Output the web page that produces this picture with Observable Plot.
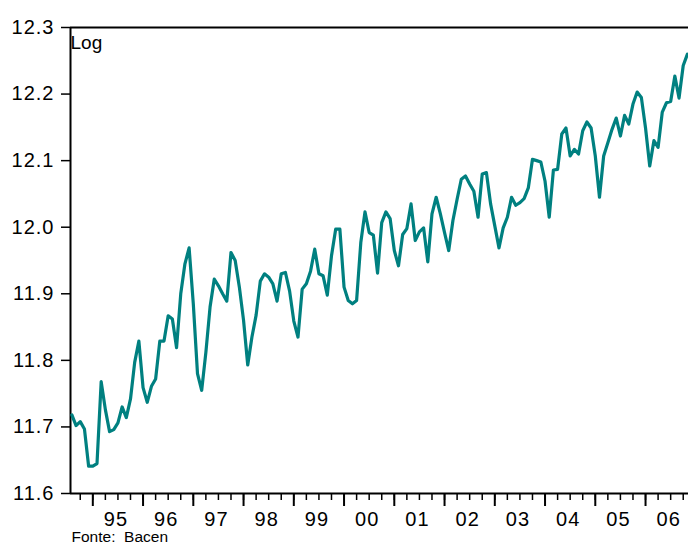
<!DOCTYPE html>
<html>
<head>
<meta charset="utf-8">
<script src="https://cdn.jsdelivr.net/npm/d3@7"></script>
<script src="https://cdn.jsdelivr.net/npm/@observablehq/plot@0.6"></script>
<style>
  html, body { margin: 0; padding: 0; background: #fff; }
  #chart { width: 688px; height: 543px; overflow: hidden; }
  g[aria-label$="tick label"] text { letter-spacing: 1px; }
</style>
</head>
<body>
<div id="chart"></div>
<script>
// Monthly series (log), starting August 1994
const startYear = 1994;
const startMonth = 8;
const values = [
  11.718, 11.702, 11.708, 11.697, 11.641, 11.641, 11.645, 11.768, 11.726, 11.693,
  11.696, 11.706, 11.730, 11.714, 11.742, 11.797, 11.829, 11.759, 11.737, 11.761,
  11.772, 11.829, 11.829, 11.867, 11.862, 11.819, 11.900, 11.945, 11.969, 11.885,
  11.780, 11.755, 11.812, 11.880, 11.922, 11.912, 11.900, 11.889, 11.962, 11.950,
  11.910, 11.860, 11.793, 11.835, 11.868, 11.919, 11.930, 11.925, 11.915, 11.889,
  11.930, 11.932, 11.904, 11.859, 11.835, 11.907, 11.915, 11.934, 11.967, 11.930,
  11.927, 11.898, 11.957, 11.997, 11.997, 11.910, 11.890, 11.885, 11.890, 11.977,
  12.023, 11.992, 11.988, 11.931, 12.007, 12.023, 12.013, 11.965, 11.942, 11.989,
  11.998, 12.035, 11.980, 11.993, 11.999, 11.948, 12.020, 12.045, 12.020, 11.992,
  11.965, 12.010, 12.042, 12.072, 12.077, 12.065, 12.054, 12.015, 12.080, 12.082,
  12.035, 12.002, 11.969, 11.999, 12.015, 12.045, 12.033, 12.037, 12.043, 12.059,
  12.102, 12.100, 12.098, 12.069, 12.015, 12.086, 12.087, 12.140, 12.149, 12.107,
  12.117, 12.110, 12.145, 12.158, 12.149, 12.107, 12.045, 12.107, 12.127, 12.147,
  12.164, 12.137, 12.168, 12.155, 12.185, 12.203, 12.195, 12.149, 12.092, 12.130,
  12.120, 12.173, 12.187, 12.189, 12.227, 12.194, 12.243, 12.260
];
const yearLabels = ["95","96","97","98","99","00","01","02","03","04","05","06"];
const labelYears = d3.range(1995, 2007);
const yTicks = [11.6, 11.7, 11.8, 11.9, 12.0, 12.1, 12.2, 12.3];
const unitLabel = "Log";
const sourceNote = "Fonte:  Bacen";

const data = values.map((v, i) => ({
  t: startYear + (startMonth - 1 + i) / 12,
  v
}));

const xDomain = [1994.556, 2006.855];
const yearTicks = d3.range(1995, 2007);
const quarterTicks = d3.range(1994.75, 2006.8, 0.25);
const labelPos = labelYears.map(y => y + 0.46);

const chart = Plot.plot({
  width: 688,
  height: 543,
  marginLeft: 70,
  marginRight: 0,
  marginTop: 27,
  marginBottom: 50,
  style: { fontFamily: "'Liberation Sans', Arial, sans-serif", background: "#fff", color: "#000" },
  x: { domain: xDomain },
  y: { domain: [11.6, 12.3] },
  marks: [
    Plot.ruleY([12.3], { stroke: "#000", strokeWidth: 2 }),
    Plot.ruleY([11.6], { stroke: "#000", strokeWidth: 2 }),
    Plot.ruleX([xDomain[0]], { stroke: "#000", strokeWidth: 2 }),
    Plot.line(data, { x: "t", y: "v", stroke: "#008080", strokeWidth: 3.2 }),
    Plot.axisY({ ticks: yTicks, tickSize: 9, tickPadding: 7, strokeWidth: 1.5,
      tickFormat: d => d.toFixed(1), fontSize: 20, label: null }),
    Plot.axisX({ ticks: quarterTicks, tickSize: 7, tickPadding: 0, strokeWidth: 1.5,
      tickFormat: () => "", label: null }),
    Plot.axisX({ ticks: yearTicks, tickSize: 13, tickPadding: 0, strokeWidth: 2,
      tickFormat: () => "", label: null }),
    Plot.axisX({ ticks: labelPos, tickSize: 0, tickPadding: 18, fontSize: 20,
      tickFormat: d => yearLabels[labelPos.indexOf(d)], label: null }),
    Plot.text([unitLabel], { frameAnchor: "top-left", textAnchor: "start", lineAnchor: "bottom",
      dx: 0, dy: 21, fontSize: 19, fill: "#000" }),
    Plot.text([sourceNote], { frameAnchor: "bottom-left", textAnchor: "start", lineAnchor: "bottom",
      dx: 1, dy: 48, fontSize: 15.5, fill: "#000" })
  ]
});
document.getElementById("chart").appendChild(chart);
</script>
</body>
</html>
